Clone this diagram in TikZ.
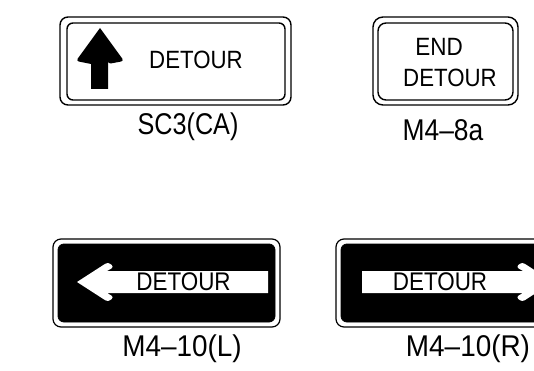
\documentclass[tikz,border=0pt]{standalone}
\usepackage{fontspec}
\setmainfont{Liberation Sans}
\usepackage{graphicx}
\newcommand{\sq}[2]{\scalebox{#1}[1]{#2}}
\begin{document}
\begin{tikzpicture}[x=1pt,y=-1pt,
  frame/.style={draw=black,line width=1.4pt,rounded corners=8pt,fill=white},
  innerframe/.style={draw=black,line width=1.4pt,rounded corners=6pt},
  blackpanel/.style={draw=black,fill=black,line width=0.8pt,rounded corners=6pt},
  signtext/.style={inner sep=0pt,anchor=base,font=\fontsize{25}{27}\selectfont},
  signtextw/.style={inner sep=0pt,anchor=base,font=\fontsize{25.5}{27}\selectfont},
  lbl/.style={inner sep=0pt,anchor=base,font=\fontsize{30}{32}\selectfont}]
\useasboundingbox (0,0) rectangle (534,371);
\clip (0,0) rectangle (534,371);

% ---- Sign SC3(CA)
\draw[frame] (60,17) rectangle (291,105);
\draw[innerframe] (67,23) rectangle (285,100);
\fill[black] (100,28) [rounded corners=3pt] -- (124,61) -- (108,64) [sharp corners] -- (108,64) -- (108,89) -- (91,89) -- (91,64) [rounded corners=3pt] -- (76,61) [sharp corners] -- cycle;
\node[signtext] (t1) at (196,69) {\sq{0.89}{DETOUR}};
\node[lbl] (l1) at (188,134.5) {\sq{0.84}{SC3(CA)}};

% ---- Sign M4-8a
\draw[frame,rounded corners=10pt] (373,17) rectangle (518,105);
\draw[innerframe,rounded corners=8pt] (378,23) rectangle (513,100);
\node[signtext] (t2a) at (439,56) {\sq{0.9}{END}};
\node[signtext] (t2b) at (450,87) {\sq{0.89}{DETOUR}};
\node[lbl] (l2) at (443,141) {\sq{0.88}{M4–8a}};

% ---- Sign M4-10(L)
\draw[frame,line width=1.2pt] (53,239) rectangle (280,327);
\draw[blackpanel] (58,244) rectangle (275,322);
\fill[white] (77,282) [rounded corners=3pt] -- (108,262) -- (114,267) [sharp corners] -- (107,271) -- (268,271) -- (268,293) -- (107,293) [rounded corners=3pt] -- (114,297) -- (108,302) [sharp corners] -- cycle;
\node[signtextw] (t3) at (183.5,290.5) {\sq{0.88}{DETOUR}};
\node[lbl] (l3) at (182,356.5) {\sq{0.93}{M4–10(L)}};

% ---- Sign M4-10(R)
\draw[frame,line width=1.2pt] (336,239) rectangle (563,327);
\draw[blackpanel] (341,244) rectangle (558,322);
\fill[white] (553,282) [rounded corners=3pt] -- (522,262) -- (516,267) [sharp corners] -- (523,271) -- (362,271) -- (362,293) -- (523,293) [rounded corners=3pt] -- (516,297) -- (522,302) [sharp corners] -- cycle;
\node[signtextw] (t4) at (440,290.5) {\sq{0.88}{DETOUR}};
\node[lbl] (l4) at (468,356.5) {\sq{0.93}{M4–10(R)}};
\end{tikzpicture}
\end{document}
